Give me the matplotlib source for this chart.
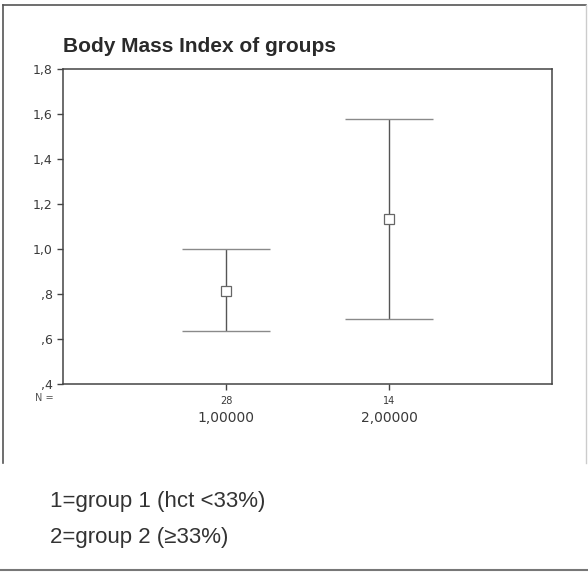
import matplotlib.pyplot as plt
from matplotlib.lines import Line2D

# values
groups = [1, 2]
group_labels = ["1,00000", "2,00000"]
n_counts = ["28", "14"]
means = [0.815, 1.135]
upper = [1.0, 1.58]
lower = [0.635, 0.69]
yticks = [0.4, 0.6, 0.8, 1.0, 1.2, 1.4, 1.6, 1.8]
ytick_labels = [",4", ",6", ",8", "1,0", "1,2", "1,4", "1,6", "1,8"]
title = "Body Mass Index of groups"
notes = ["1=group 1 (hct <33%)", "2=group 2 (\u226533%)"]

plt.rcParams['font.family'] = ['Liberation Sans', 'DejaVu Sans']

W, H = 588, 573
fig = plt.figure(figsize=(W / 100, H / 100), dpi=100)
fig.patch.set_facecolor('white')

ax = fig.add_axes([63 / W, 1 - 384 / H, 489 / W, 315 / H])

dark = '#3a3a3a'
for g, m, lo, hi in zip(groups, means, lower, upper):
    ax.vlines(g, lo, hi, color='#555555', lw=1.0)
    ax.hlines([lo, hi], g - 0.27, g + 0.27, color='#8a8a8a', lw=1.0)
ax.plot(groups, means, ls='none', marker='s', ms=7, mfc='white',
        mec='#666666', mew=0.9)

ax.set_xlim(0, 3)
ax.set_ylim(0.4, 1.8)
ax.set_yticks(yticks)
ax.set_yticklabels(ytick_labels, fontsize=9, color=dark, family='DejaVu Sans')
ax.set_xticks(groups)
ax.set_xticklabels(n_counts, fontsize=7, color='#555555', family='DejaVu Sans')
ax.tick_params(axis='both', direction='out', length=4, width=1, colors='#444444',
               labelcolor=dark)
ax.tick_params(axis='x', pad=5)
for s in ax.spines.values():
    s.set_color('#444444')
    s.set_linewidth(1.1)

ax.text(-0.057, -0.045, "N =", transform=ax.transAxes, fontsize=7,
        color='#555555', ha='left', va='center', family='DejaVu Sans')
for g, lab in zip(groups, group_labels):
    ax.text(g, -0.108, lab, transform=ax.get_xaxis_transform(), fontsize=10,
            color=dark, ha='center', va='center', family='DejaVu Sans')

fig.text(63 / W, 1 - 46 / H, title, fontsize=15, fontweight='bold',
         color='#2a2a2a', ha='left', va='center')

for i, line in enumerate(notes):
    fig.text(50 / W, 1 - (502 + 36 * i) / H, line, fontsize=16,
             color='#333333', ha='left', va='center')

# outer frame lines
fig.add_artist(Line2D([3 / W, 586 / W], [1 - 5 / H, 1 - 5 / H],
                      transform=fig.transFigure, color='#555555', lw=1.2))
fig.add_artist(Line2D([3 / W, 3 / W], [1 - 5 / H, 1 - 463 / H],
                      transform=fig.transFigure, color='#555555', lw=1.2))
fig.add_artist(Line2D([586 / W, 586 / W], [1 - 5 / H, 1 - 463 / H],
                      transform=fig.transFigure, color='#cccccc', lw=1.0))
fig.add_artist(Line2D([0, 1], [1 - 570 / H, 1 - 570 / H],
                      transform=fig.transFigure, color='#777777', lw=1.5))

fig.savefig('out.png', dpi=100)
